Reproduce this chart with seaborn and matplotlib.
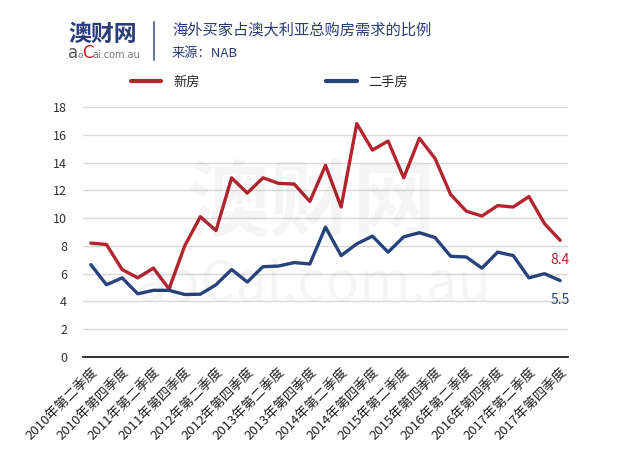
import numpy as np
import pandas as pd
import seaborn as sns
import matplotlib
matplotlib.use("Agg")
import matplotlib.pyplot as plt
from matplotlib.lines import Line2D

quarters = []
for y in range(2010, 2018):
    for q in ["第一季度", "第二季度", "第三季度", "第四季度"]:
        quarters.append(f"{y}年{q}")
quarters = quarters[1:]  # 2010Q2 .. 2017Q4 (31)

new_homes = [8.2, 8.1, 6.3, 5.7, 6.4, 4.9, 8.0, 10.1, 9.1, 12.9, 11.8, 12.9, 12.5, 12.45, 11.2, 13.8,
             10.8, 16.8, 14.9, 15.55, 12.9, 15.75, 14.3, 11.7, 10.5, 10.15, 10.9, 10.8, 11.55, 9.6, 8.4]
used_homes = [6.65, 5.2, 5.7, 4.55, 4.8, 4.8, 4.5, 4.52, 5.2, 6.3, 5.4, 6.5, 6.55, 6.8, 6.7, 9.35,
              7.3, 8.15, 8.7, 7.55, 8.65, 8.95, 8.6, 7.25, 7.2, 6.4, 7.55, 7.3, 5.7, 6.0, 5.5]
series_names = ["新房", "二手房"]
colors = ["#b3242f", "#27427c"]

df = pd.DataFrame({
    "idx": list(range(len(quarters))) * 2,
    "value": new_homes + used_homes,
    "series": [series_names[0]] * len(quarters) + [series_names[1]] * len(quarters),
})

sns.set_theme(style="white")
plt.rcParams["font.family"] = ["Noto Sans CJK SC", "DejaVu Sans"]

fig = plt.figure(figsize=(6.4, 4.54), dpi=100)
ax = fig.add_axes([83/640, 1-357/454, (568-83)/640, (357-107)/454])

# watermark
fig.text(0.487, 1-205/454, "澳财网", fontsize=60, fontweight="bold", color="#000000", alpha=0.04,
         ha="center", va="center", zorder=0)
fig.text(0.49, 1-285/454, "aoCai.com.au", fontsize=40, color="#000000", alpha=0.04,
         ha="center", va="center", zorder=0)

sns.lineplot(data=df, x="idx", y="value", hue="series", palette=dict(zip(series_names, colors)),
             linewidth=2.4, ax=ax, legend=False, zorder=3)

ax.set_xlim(-0.5, len(quarters) - 0.5)
ax.set_ylim(0, 18)
ax.set_yticks(range(0, 19, 2))
ax.yaxis.grid(True, color="#d9d9d9", linewidth=1)
ax.set_axisbelow(True)
for s in ["left", "top", "right"]:
    ax.spines[s].set_visible(False)
ax.spines["bottom"].set_color("#222222")
ax.spines["bottom"].set_linewidth(1.3)
ax.set_xlabel("")
ax.set_ylabel("")

ax.set_xticks(list(range(0, len(quarters), 2)))
ax.set_xticklabels(quarters[::2], rotation=45, ha="right", rotation_mode="anchor", fontsize=9.5,
                   color="#222222")
ax.set_xticks(np.arange(-0.5, len(quarters), 1.0), minor=True)
ax.tick_params(axis="x", which="major", length=0, pad=6)
ax.tick_params(axis="x", which="minor", length=4, width=1.2, color="#222222", direction="out")
ax.tick_params(axis="y", length=0, labelsize=9, labelcolor="#333333", pad=11.5)

# end labels
ax.annotate(f"{new_homes[-1]}", (len(quarters)-1, new_homes[-1]), xytext=(0, -9),
            textcoords="offset points", ha="center", va="top", fontsize=10, color=colors[0])
ax.annotate(f"{used_homes[-1]}", (len(quarters)-1, used_homes[-1]), xytext=(0, -9),
            textcoords="offset points", ha="center", va="top", fontsize=10, color=colors[1])

# legend
handles = [Line2D([], [], color=c, linewidth=3) for c in colors]
fig.legend(handles, series_names, loc="center left", bbox_to_anchor=(131/640, 1-82/454),
           ncol=2, frameon=False, fontsize=9.5, handlelength=2.3, handletextpad=0.9,
           columnspacing=9.6, borderpad=0, borderaxespad=0)

# header
navy = "#2a3c78"
fig.text(68/640, 1-34/454, "澳财网", fontsize=16.5, fontweight="bold", color=navy, ha="left", va="center")
logo_y = 1 - 58/454
fig.text(68/640, logo_y, "a", fontsize=12, color="#555555", ha="left", va="baseline", family=["DejaVu Sans"])
fig.text(77/640, logo_y, "o", fontsize=6.5, color="#777777", ha="left", va="baseline", family=["DejaVu Sans"])
fig.text(82/640, logo_y, "C", fontsize=12, color="#c0272d", ha="left", va="baseline", family=["DejaVu Sans"])
fig.text(92/640, logo_y, "ai.com.au", fontsize=7, color="#777777", ha="left", va="baseline", family=["DejaVu Sans"])
fig.add_artist(Line2D([154/640, 154/640], [1-22/454, 1-60/454], color="#6d7896", linewidth=1.5))
fig.text(172/640, 1-30/454, "海外买家占澳大利亚总购房需求的比例", fontsize=11, color=navy, ha="left", va="center")
fig.text(172/640, 1-53/454, "来源：NAB", fontsize=9.5, color=navy, ha="left", va="center")

fig.savefig("out.png", dpi=100, facecolor="white")
